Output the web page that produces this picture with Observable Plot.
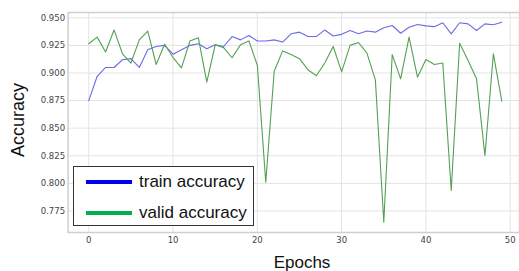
<!DOCTYPE html>
<html>
<head>
<meta charset="utf-8">
<script src="https://cdn.jsdelivr.net/npm/d3@7"></script>
<script src="https://cdn.jsdelivr.net/npm/@observablehq/plot@0.6"></script>
<style>
  html, body { margin: 0; padding: 0; background: #fff; }
  #wrap { position: relative; width: 519px; height: 271px; overflow: hidden; }
  .legend { position: absolute; left: 73px; top: 166px; width: 181px; height: 60px;
            border: 1.5px solid #333; background: #fff; box-sizing: border-box;
            font-family: "Liberation Sans", Arial, sans-serif; font-size: 17px; color: #111; }
  .row { position: absolute; left: 12px; display: flex; align-items: center; }
  .sw { width: 46px; height: 4px; margin-right: 7px; }
</style>
</head>
<body>
<div id="wrap"></div>
<script>
const epochs = d3.range(0, 50);
const trainAccuracy = [
  0.875, 0.897, 0.905, 0.905, 0.912, 0.913, 0.905, 0.921, 0.924, 0.925,
  0.917, 0.921, 0.925, 0.9265, 0.922, 0.9255, 0.924, 0.933, 0.930, 0.934,
  0.929, 0.929, 0.930, 0.928, 0.9355, 0.937, 0.933, 0.933, 0.939, 0.9335,
  0.935, 0.9385, 0.9355, 0.938, 0.937, 0.941, 0.943, 0.936, 0.9414, 0.944,
  0.9427, 0.942, 0.9455, 0.9355, 0.9455, 0.9445, 0.9385, 0.9445, 0.9437, 0.946
];
const validAccuracy = [
  0.9265, 0.9325, 0.919, 0.939, 0.9174, 0.909, 0.930, 0.938, 0.9077, 0.926,
  0.914, 0.9047, 0.929, 0.932, 0.8917, 0.9255, 0.923, 0.9138, 0.9255, 0.929,
  0.907, 0.801, 0.9016, 0.920, 0.9167, 0.913, 0.903, 0.8975, 0.909, 0.924,
  0.901, 0.925, 0.9276, 0.918, 0.8938, 0.7649, 0.9167, 0.8947, 0.9325, 0.8962,
  0.9122, 0.9077, 0.909, 0.7936, 0.927, 0.9113, 0.8947, 0.8253, 0.9174, 0.8745
];
const seriesNames = ["train accuracy", "valid accuracy"];
const yTicks = [0.775, 0.800, 0.825, 0.850, 0.875, 0.900, 0.925, 0.950];
const xTicks = [0, 10, 20, 30, 40, 50];

const train = epochs.map((e, i) => ({epoch: e, acc: trainAccuracy[i]}));
const valid = epochs.map((e, i) => ({epoch: e, acc: validAccuracy[i]}));

const W = 519, H = 271;
const chart = Plot.plot({
  width: W, height: H,
  marginLeft: 67.6, marginRight: 0, marginTop: 12, marginBottom: 39,
  style: {background: "#fff", fontFamily: "'DejaVu Sans', sans-serif", fontSize: "8.5px", color: "#444"},
  x: {domain: [-2.45, 51.1]},
  y: {domain: [0.7555, 0.9548]},
  marks: [
    Plot.gridX(xTicks, {stroke: "#e3e3e3", strokeOpacity: 1, strokeWidth: 1}),
    Plot.gridY(yTicks, {stroke: "#e3e3e3", strokeOpacity: 1, strokeWidth: 1}),
    Plot.frame({stroke: "#cfcfcf", strokeWidth: 1.5}),
    Plot.axisY(yTicks, {tickSize: 0, tickPadding: 3, tickFormat: d3.format(".3f"), label: null, fill: "#444"}),
    Plot.axisX(xTicks, {tickSize: 0, tickPadding: 4, label: null, fill: "#444"}),
    Plot.line(train, {x: "epoch", y: "acc", stroke: "#6a6ae8", strokeWidth: 1.1}),
    Plot.line(valid, {x: "epoch", y: "acc", stroke: "#54a054", strokeWidth: 1.1})
  ]
});

const svg = d3.select(chart);
svg.append("text")
  .attr("transform", "translate(24,120) rotate(-90)")
  .attr("text-anchor", "middle")
  .attr("font-family", "'Liberation Sans', Arial, sans-serif")
  .attr("font-size", 18).attr("fill", "#111")
  .text("Accuracy");
svg.append("text")
  .attr("x", 302).attr("y", 268)
  .attr("text-anchor", "middle")
  .attr("font-family", "'Liberation Sans', Arial, sans-serif")
  .attr("font-size", 17).attr("fill", "#111")
  .text("Epochs");

const wrap = document.getElementById("wrap");
wrap.appendChild(chart);

const legend = document.createElement("div");
legend.className = "legend";
const colors = ["#0000ee", "#00b04c"];
seriesNames.forEach((name, i) => {
  const row = document.createElement("div");
  row.className = "row";
  row.style.top = (i === 0 ? 5 : 36) + "px";
  const sw = document.createElement("div");
  sw.className = "sw";
  sw.style.background = colors[i];
  const t = document.createElement("span");
  t.textContent = name;
  row.appendChild(sw); row.appendChild(t);
  legend.appendChild(row);
});
wrap.appendChild(legend);
</script>
</body>
</html>
